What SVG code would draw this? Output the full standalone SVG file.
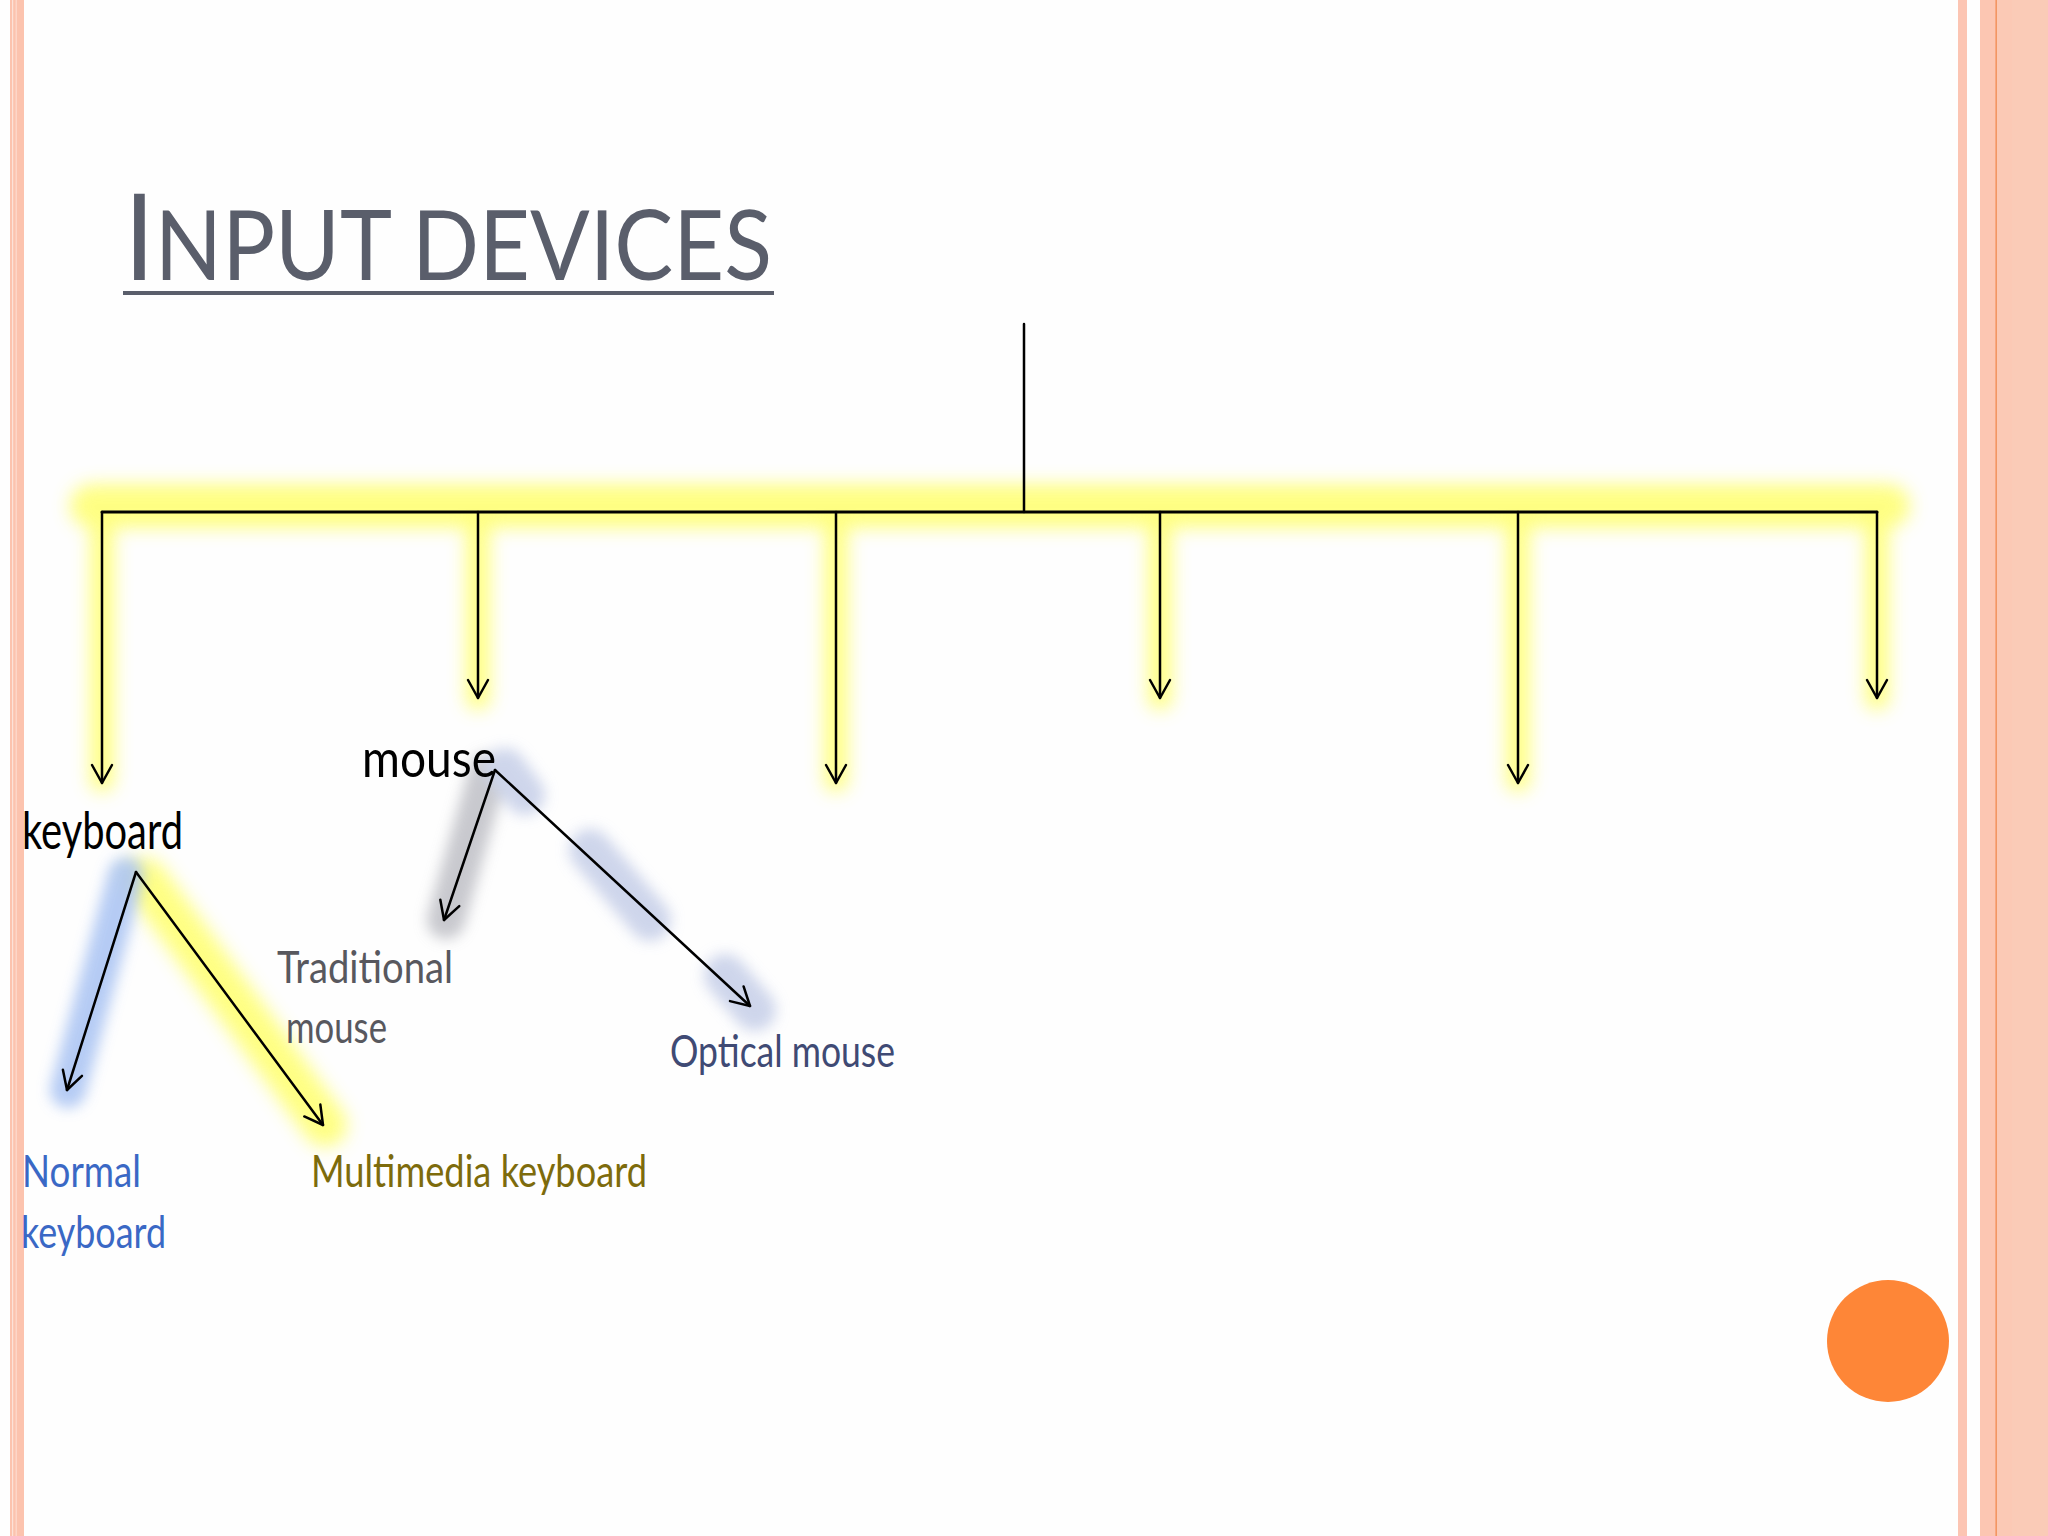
<svg xmlns="http://www.w3.org/2000/svg" width="2048" height="1536" viewBox="0 0 2048 1536">
<style>
.lbl{font-family:Lato,"Liberation Sans",sans-serif}
.big{font-size:53px;fill:#000}
.sm{font-size:44px}
.ln{stroke:#000;fill:none;stroke-linecap:round}
.glowY{stroke:#ffff50;fill:none;stroke-linecap:round}
</style>
<defs>
<marker id="ah" markerUnits="userSpaceOnUse" markerWidth="40" markerHeight="40" viewBox="-25 -20 30 40" refX="0" refY="0" orient="auto" overflow="visible">
<path d="M-18,-10 L0,0 L-18,10" fill="none" stroke="#000" stroke-width="2.5" stroke-linecap="round" stroke-linejoin="round"/>
</marker>
<filter id="blur" x="-50%" y="-50%" width="200%" height="200%"><feGaussianBlur stdDeviation="9"/></filter>
<filter id="blurS" x="-50%" y="-50%" width="200%" height="200%"><feGaussianBlur stdDeviation="7"/></filter>
</defs>
<rect width="2048" height="1536" fill="#fefefe"/>
<g id="frame">
<rect x="10" y="0" width="14" height="1536" fill="#fcc3ae"/>
<rect x="12" y="0" width="1.2" height="1536" fill="#fde2d8"/>
<rect x="15.5" y="0" width="1.5" height="1536" fill="#fdd6c8"/>
<rect x="1958" y="0" width="9" height="1536" fill="#fcc5b3"/>
<rect x="1980" y="0" width="68" height="1536" fill="#fcc6b2"/>
<rect x="1997" y="0" width="15" height="1536" fill="#fbc9b5"/>
<rect x="2012" y="0" width="36" height="1536" fill="#facbb7"/>
<rect x="1995.5" y="0" width="1.3" height="1536" fill="#f08a50"/>
<circle cx="1888" cy="1341" r="61" fill="#fe8637"/>
</g>
<g id="title">
<text x="124" y="280" font-family="Lato,'Liberation Sans',sans-serif" fill="#5a5e6b" textLength="648" lengthAdjust="spacingAndGlyphs"><tspan font-size="121">I</tspan><tspan font-size="97">NPUT DEVICES</tspan></text>
<rect x="123" y="291" width="651" height="4" fill="#5a5e6b"/>
</g>
<g id="glows">
<g filter="url(#blur)" opacity="0.7">
<line class="glowY" x1="92" y1="506" x2="1888" y2="506" stroke-width="44"/>
<line class="glowY" x1="102" y1="512" x2="102" y2="780" stroke-width="24"/>
<line class="glowY" x1="478" y1="512" x2="478" y2="698" stroke-width="24"/>
<line class="glowY" x1="836" y1="512" x2="836" y2="780" stroke-width="24"/>
<line class="glowY" x1="1160" y1="512" x2="1160" y2="698" stroke-width="24"/>
<line class="glowY" x1="1518" y1="512" x2="1518" y2="780" stroke-width="24"/>
<line class="glowY" x1="1877" y1="512" x2="1877" y2="698" stroke-width="24"/>
<line class="glowY" x1="145" y1="880" x2="325" y2="1125" stroke-width="44"/>
</g>
<g filter="url(#blurS)" opacity="0.85">
<line x1="126" y1="875" x2="68" y2="1090" stroke="#a9c3f3" stroke-width="36" stroke-linecap="round"/>
<line x1="488" y1="772" x2="446" y2="920" stroke="#bfc0c6" stroke-width="38" stroke-linecap="round"/>
<line x1="505" y1="768" x2="525" y2="795" stroke="#c6cfe8" stroke-width="40" stroke-linecap="round"/>
<line x1="590" y1="850" x2="650" y2="920" stroke="#c6cfe8" stroke-width="42" stroke-linecap="round"/>
<line x1="725" y1="975" x2="755" y2="1010" stroke="#c6cfe8" stroke-width="42" stroke-linecap="round"/>
</g>
</g>
<g id="connectors">
<line class="ln" x1="1024" y1="324" x2="1024" y2="512" stroke-width="2.5"/>
<line class="ln" x1="102" y1="512" x2="1877" y2="512" stroke-width="3"/>
<line class="ln" x1="102" y1="512" x2="102" y2="783" stroke-width="2.5" marker-end="url(#ah)"/>
<line class="ln" x1="478" y1="512" x2="478" y2="698" stroke-width="2.5" marker-end="url(#ah)"/>
<line class="ln" x1="836" y1="512" x2="836" y2="783" stroke-width="2.5" marker-end="url(#ah)"/>
<line class="ln" x1="1160" y1="512" x2="1160" y2="698" stroke-width="2.5" marker-end="url(#ah)"/>
<line class="ln" x1="1518" y1="512" x2="1518" y2="783" stroke-width="2.5" marker-end="url(#ah)"/>
<line class="ln" x1="1877" y1="512" x2="1877" y2="698" stroke-width="2.5" marker-end="url(#ah)"/>
<line class="ln" x1="136" y1="872" x2="67" y2="1090" stroke-width="2.5" marker-end="url(#ah)"/>
<line class="ln" x1="136" y1="872" x2="323" y2="1125" stroke-width="2.5" marker-end="url(#ah)"/>
<line class="ln" x1="495" y1="770" x2="444" y2="920" stroke-width="2.5" marker-end="url(#ah)"/>
<line class="ln" x1="495" y1="770" x2="750" y2="1006" stroke-width="2.5" marker-end="url(#ah)"/>
</g>
<g id="node-keyboard"><text class="lbl big" x="22" y="849" textLength="161" lengthAdjust="spacingAndGlyphs">keyboard</text></g>
<g id="node-mouse"><text class="lbl big" x="362" y="777" textLength="134" lengthAdjust="spacingAndGlyphs">mouse</text></g>
<g id="node-traditional-mouse" class="lbl sm" fill="#58585e">
<text x="277" y="983" textLength="176" lengthAdjust="spacingAndGlyphs">Traditional</text>
<text x="286" y="1043" textLength="101" lengthAdjust="spacingAndGlyphs">mouse</text>
</g>
<g id="node-optical-mouse"><text class="lbl sm" x="670" y="1067" fill="#3f4a74" textLength="225" lengthAdjust="spacingAndGlyphs">Optical mouse</text></g>
<g id="node-normal-keyboard" class="lbl sm" fill="#3a68c5">
<text x="22" y="1187" textLength="119" lengthAdjust="spacingAndGlyphs">Normal</text>
<text x="21" y="1248" textLength="145" lengthAdjust="spacingAndGlyphs">keyboard</text>
</g>
<g id="node-multimedia-keyboard"><text class="lbl sm" x="311" y="1187" fill="#7d6b0c" textLength="336" lengthAdjust="spacingAndGlyphs">Multimedia keyboard</text></g>
</svg>
